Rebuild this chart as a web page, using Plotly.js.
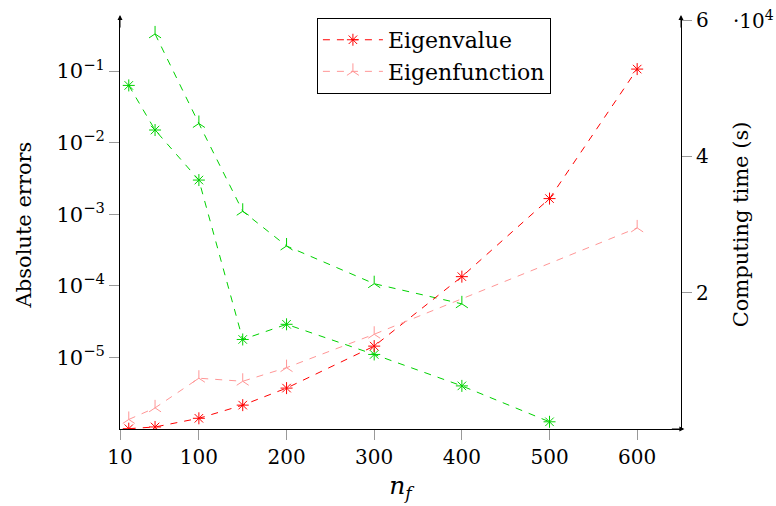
<!DOCTYPE html>
<html>
<head>
<meta charset="utf-8">
<script src="https://cdn.plot.ly/plotly-3.0.1.min.js"></script>
<style>html,body{margin:0;padding:0;background:#fff;}#chart{width:776px;height:506px;}</style>
</head>
<body>
<div id="chart"></div>
<script>
// x positions (n_f)
const nfErrEigval = [20, 50, 100, 150, 200, 300, 400, 500];
const errEigval = [0.063, 0.015, 0.003, 1.78e-5, 2.9e-5, 1.1e-5, 4.0e-6, 1.26e-6];
const nfErrEigfun = [50, 100, 150, 200, 300, 400];
const errEigfun = [0.33, 0.0185, 1.1e-3, 3.6e-4, 1.07e-4, 5.6e-5];
const nfTimeEigval = [20, 50, 100, 150, 200, 300, 400, 500, 600];
const timeEigval = [50, 300, 1570, 3500, 6000, 12160, 22350, 33800, 52800];
const nfTimeEigfun = [20, 50, 100, 150, 200, 300, 600];
const timeEigfun = [1400, 3100, 7450, 7000, 9000, 13900, 29500];
const xTickVals = [10, 100, 200, 300, 400, 500, 600];
const yTickVals = [1e-1, 1e-2, 1e-3, 1e-4, 1e-5];
const yTickText = ['10<sup>−1</sup>', '10<sup>−2</sup>', '10<sup>−3</sup>', '10<sup>−4</sup>', '10<sup>−5</sup>'];
const y2TickVals = [20000, 40000, 60000];
const y2TickText = ['2', '4', '6'];

const GREEN = 'rgb(0,210,0)';
const RED = 'rgb(255,0,0)';
const PINK = 'rgb(255,150,150)';
const DASH = '7px,7px';
const FONT = 'DejaVu Serif';

function tr(x, y, color, symbol, name, yaxis, showlegend) {
  return {
    x: x, y: y, type: 'scatter', mode: 'lines+markers', name: name,
    yaxis: yaxis, showlegend: showlegend,
    line: {color: color, width: 1, dash: DASH},
    marker: {symbol: symbol, size: 10, color: color, line: {color: color, width: 1}}
  };
}

const data = [
  tr(nfErrEigval, errEigval, GREEN, 'asterisk-open', 'err eigval', 'y', false),
  tr(nfErrEigfun, errEigfun, GREEN, 'y-up-open', 'err eigfun', 'y', false),
  tr(nfTimeEigval, timeEigval, RED, 'asterisk-open', 'Eigenvalue', 'y2', true),
  tr(nfTimeEigfun, timeEigfun, PINK, 'y-up-open', 'Eigenfunction', 'y2', true)
];

const arrowBase = {text: '', showarrow: true, arrowhead: 2, arrowsize: 1, arrowwidth: 1,
  arrowcolor: 'black', standoff: 0, xref: 'paper', yref: 'paper', axref: 'pixel', ayref: 'pixel'};

const layout = {
  width: 776, height: 506,
  margin: {l: 120, r: 95, t: 20, b: 77},
  paper_bgcolor: 'white', plot_bgcolor: 'white',
  font: {family: FONT, size: 21, color: 'black'},
  xaxis: {
    range: [10, 650], tickvals: xTickVals, ticktext: xTickVals.map(String),
    showgrid: false, zeroline: false, showline: true, linecolor: 'black', linewidth: 1,
    ticks: 'outside', ticklen: 10, tickcolor: '#999', tickwidth: 1,
    tickfont: {family: FONT, size: 20},
    title: {text: '<i>n</i><sub><i>f</i></sub>', font: {family: FONT, size: 25}, standoff: 8}
  },
  yaxis: {
    type: 'log', range: [-6, -0.287], tickvals: yTickVals, ticktext: yTickText,
    showgrid: false, zeroline: false, showline: true, linecolor: 'black', linewidth: 1,
    ticks: 'outside', ticklen: 10, tickcolor: '#999', tickwidth: 1,
    tickfont: {family: FONT, size: 21},
    title: {text: 'Absolute errors', font: {family: FONT, size: 21}, standoff: 19}
  },
  yaxis2: {
    overlaying: 'y', side: 'right', range: [0, 60000],
    tickvals: y2TickVals, ticktext: y2TickText,
    showgrid: false, zeroline: false, showline: true, linecolor: 'black', linewidth: 1,
    ticks: 'outside', ticklen: 10, tickcolor: '#999', tickwidth: 1,
    tickfont: {family: FONT, size: 20},
    title: {text: 'Computing time (s)', font: {family: FONT, size: 21}, standoff: 25}
  },
  legend: {
    x: 0.351, y: 1.005, xanchor: 'left', yanchor: 'top',
    bgcolor: 'white', bordercolor: 'black', borderwidth: 1,
    font: {family: FONT, size: 22}, itemwidth: 60, tracegroupgap: 0
  },
  annotations: [
    Object.assign({x: 0, y: 1.012, ax: 0, ay: 14}, arrowBase),
    Object.assign({x: 1, y: 1.012, ax: 0, ay: 14}, arrowBase),
    Object.assign({x: 1.006, y: 0, ax: -14, ay: 0}, arrowBase),
    {text: '·10<sup>4</sup>', showarrow: false, xref: 'paper', yref: 'paper',
     x: 1.09, y: 1.0, xanchor: 'left', yanchor: 'middle', font: {family: FONT, size: 20}}
  ]
};

Plotly.newPlot('chart', data, layout, {staticPlot: true, displayModeBar: false});
</script>
</body>
</html>
